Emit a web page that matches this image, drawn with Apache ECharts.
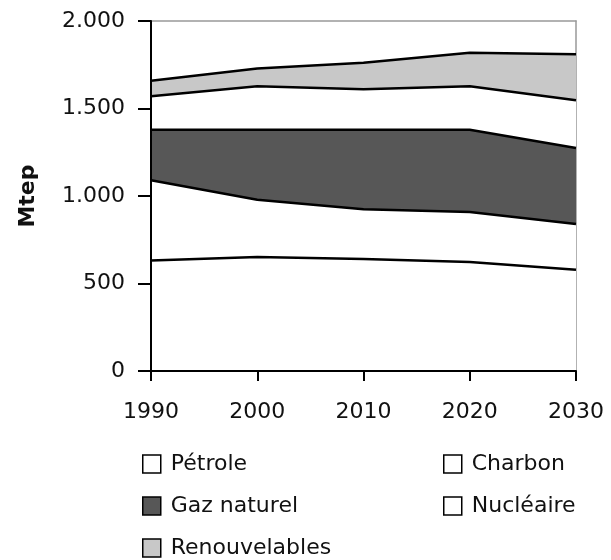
<!DOCTYPE html>
<html><head><meta charset="utf-8">
<script src="https://cdn.jsdelivr.net/npm/echarts@6/dist/echarts.min.js"></script>
<style>html,body{margin:0;padding:0;background:#fff}#c{width:611px;height:560px}</style>
</head><body><div id="c"></div>
<script>
var years = ['1990','2000','2010','2020','2030'];
var petrole = [632, 651, 640, 623, 579];
var charbon = [458, 328, 284, 286, 261];
var gaz = [289, 400, 455, 470, 434];
var nucleaire = [191, 248, 231, 248, 273];
var renouvelables = [89, 101, 152, 192, 263];
var yTicks = [0, 500, 1000, 1500, 2000];

var FONT = 'DejaVu Sans';
function mk(name, data, color) {
  return {
    name: name, type: 'line', stack: 'total', data: data,
    symbol: 'none', smooth: false,
    lineStyle: {color: '#000', width: 2.5},
    itemStyle: {color: color, borderColor: '#000', borderWidth: 1.5},
    areaStyle: {color: color, opacity: 1}
  };
}
var legendCommon = {
  orient: 'vertical', icon: 'rect', itemWidth: 18, itemHeight: 18,
  itemGap: 20, height: 140,
  itemStyle: {borderColor: '#000', borderWidth: 1.5},
  lineStyle: {opacity: 0, width: 0},
  textStyle: {fontFamily: FONT, fontSize: 22, color: '#111', padding: [0,0,0,5]},
  selectedMode: false
};
var chart = echarts.init(document.getElementById('c'), null, {renderer: 'canvas'});
chart.setOption({
  animation: false,
  backgroundColor: '#fff',
  grid: {left: 151, right: 35, top: 21, bottom: 189},
  legend: [
    Object.assign({}, legendCommon, {left: 137, top: 448, data: ['Pétrole', 'Gaz naturel', 'Renouvelables']}),
    Object.assign({}, legendCommon, {left: 438, top: 448, data: ['Charbon', 'Nucléaire']})
  ],
  xAxis: [{
    type: 'category', data: years, boundaryGap: false,
    axisLine: {lineStyle: {color: '#000', width: 2}},
    axisTick: {show: true, length: 10, lineStyle: {color: '#000', width: 2}},
    axisLabel: {fontFamily: FONT, fontSize: 22, color: '#111', margin: 30},
    z: 5
  }, {
    type: 'category', data: years, boundaryGap: false, position: 'top',
    axisLine: {onZero: false, lineStyle: {color: '#999', width: 1.5}},
    axisTick: {show: false}, axisLabel: {show: false}
  }],
  yAxis: [{
    type: 'value', min: 0, max: 2000, interval: 500,
    name: 'Mtep', nameLocation: 'middle', nameRotate: 90, nameGap: 112,
    nameTextStyle: {fontFamily: FONT, fontSize: 22, fontWeight: 'bold', color: '#111'},
    axisLine: {show: true, lineStyle: {color: '#000', width: 2}},
    axisTick: {show: true, length: 13, lineStyle: {color: '#000', width: 2}},
    splitLine: {show: false},
    axisLabel: {fontFamily: FONT, fontSize: 22, color: '#111', margin: 26,
      formatter: function (v) { return yTicks.indexOf(v) >= 0 ? String(v).replace(/\B(?=(\d{3})+(?!\d))/g, '.') : ''; }},
    z: 5
  }, {
    type: 'value', min: 0, max: 2000, interval: 500, position: 'right',
    axisLine: {show: true, onZero: false, lineStyle: {color: '#999', width: 1.5}},
    axisTick: {show: false}, axisLabel: {show: false}, splitLine: {show: false}
  }],
  series: [
    mk('Pétrole', petrole, '#ffffff'),
    mk('Charbon', charbon, '#ffffff'),
    mk('Gaz naturel', gaz, '#575757'),
    mk('Nucléaire', nucleaire, '#ffffff'),
    mk('Renouvelables', renouvelables, '#c8c8c8')
  ]
});
</script></body></html>
